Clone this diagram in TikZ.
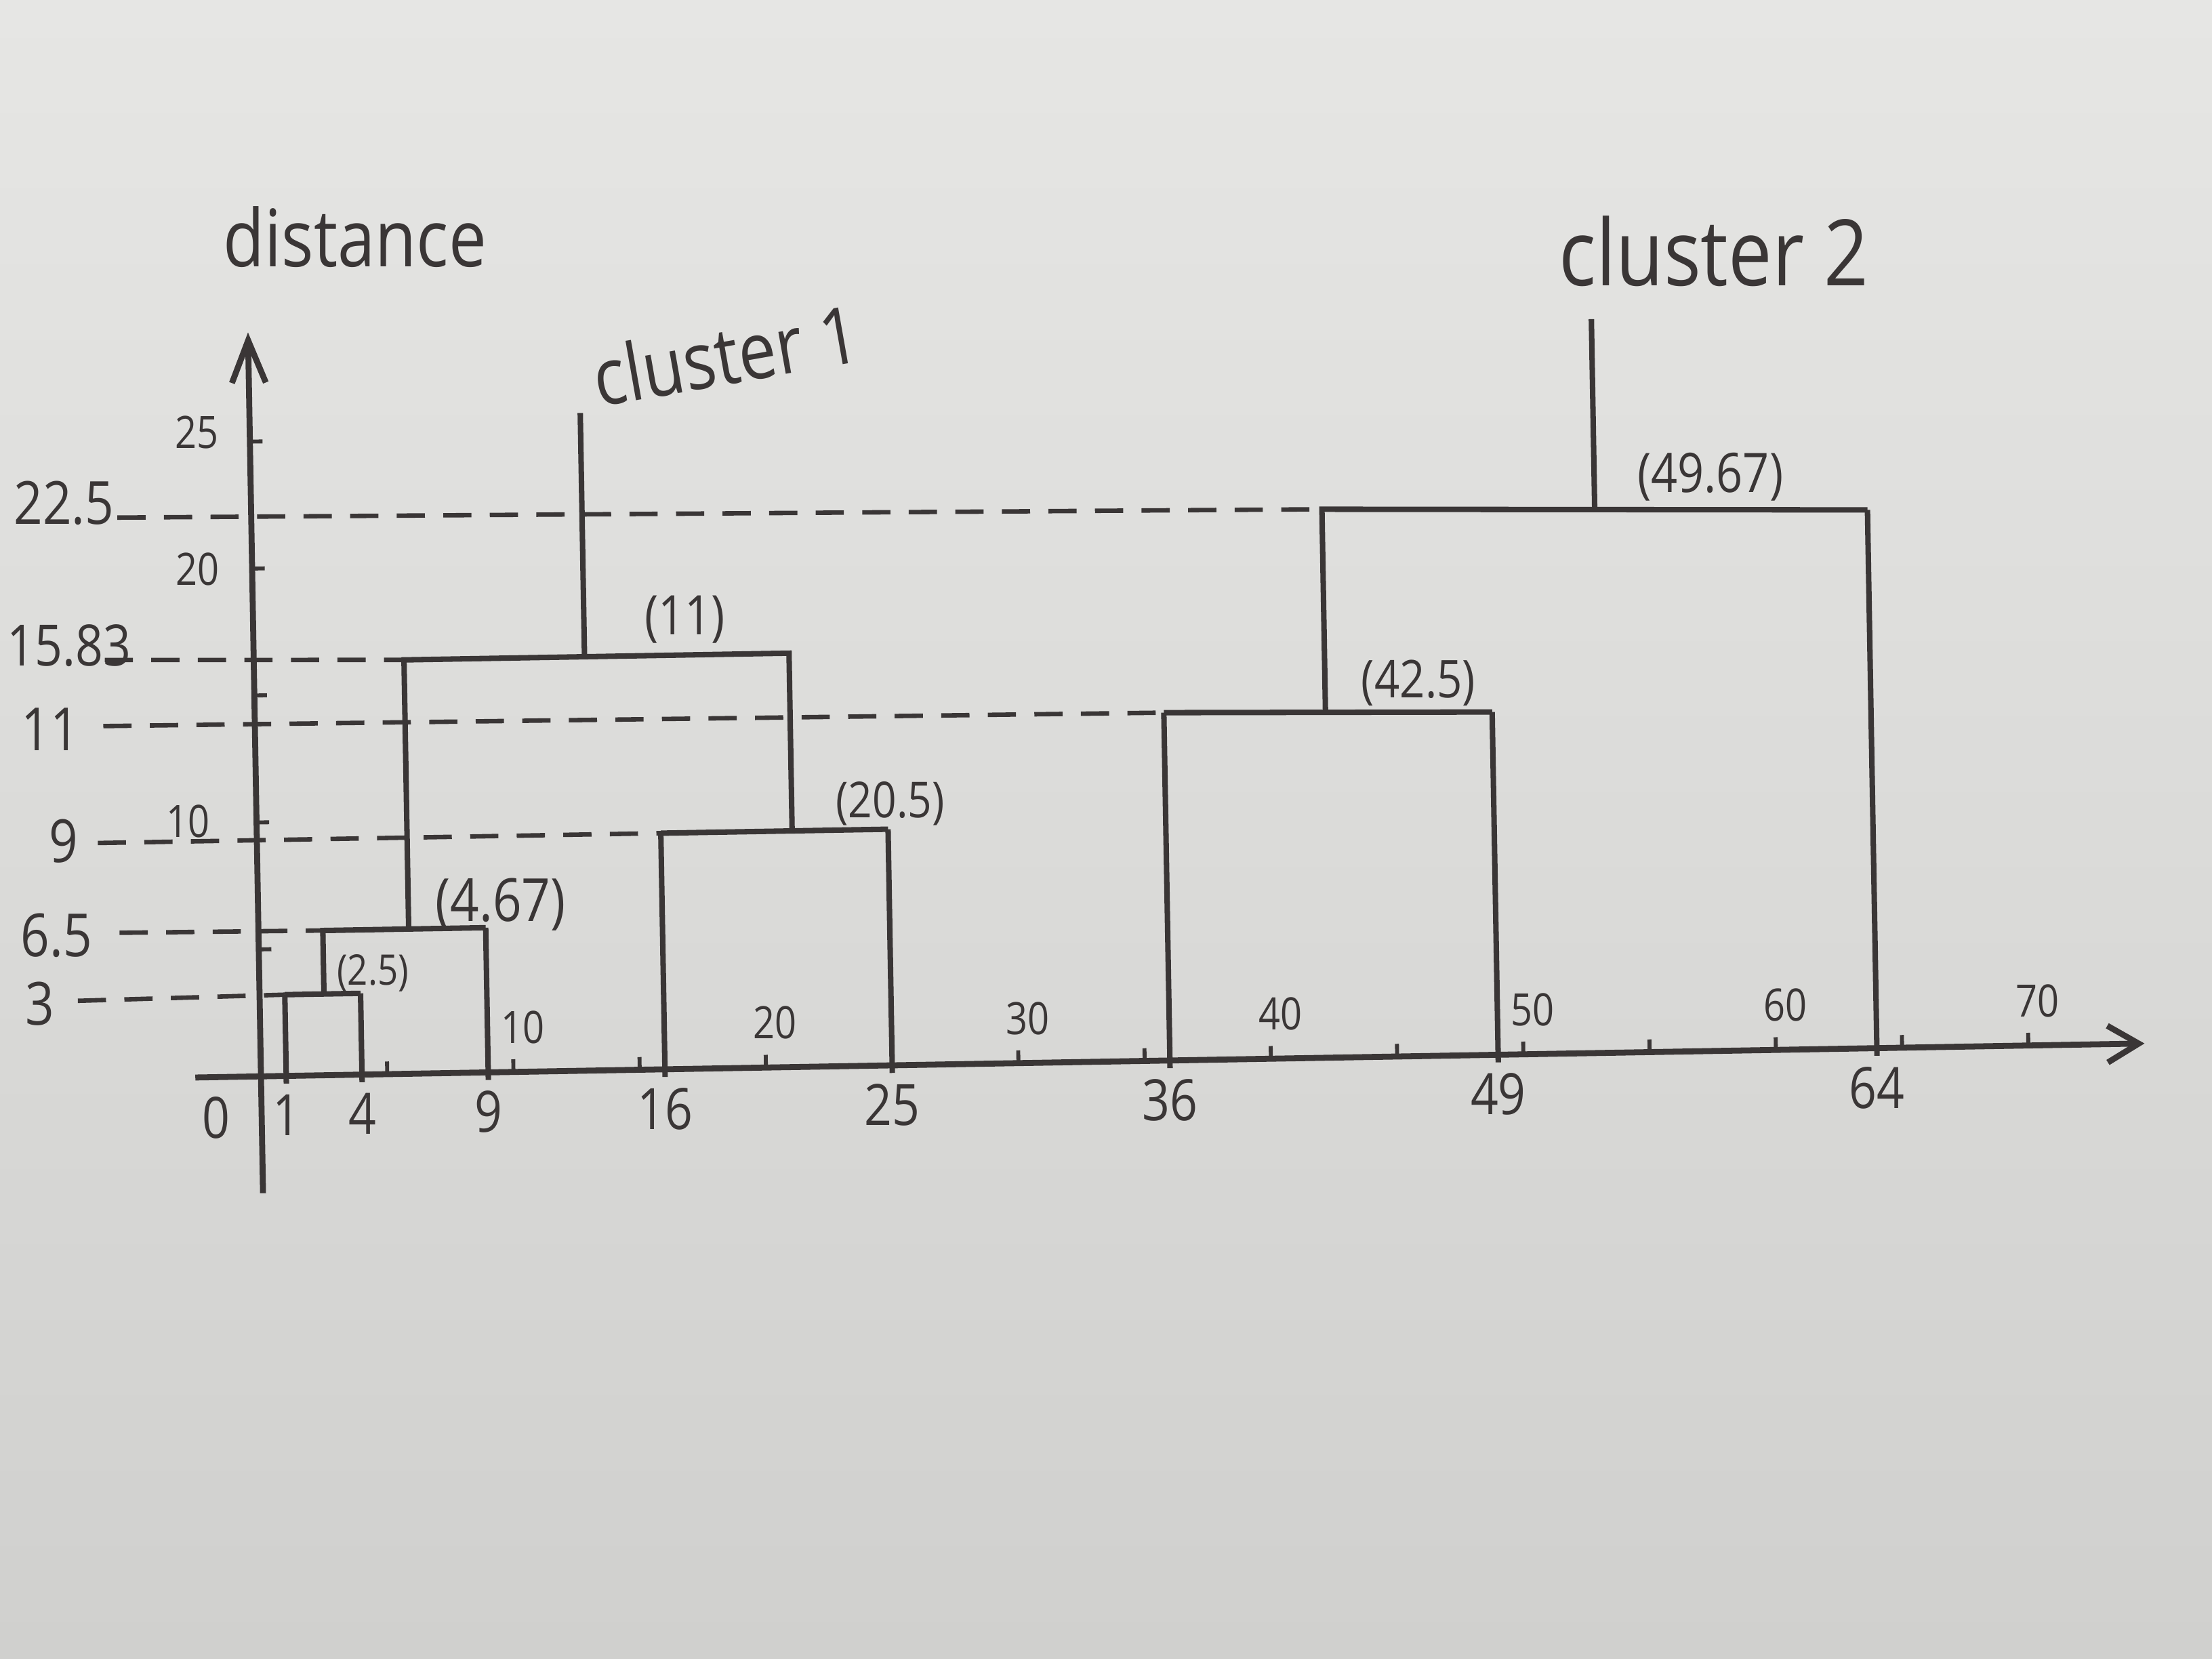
\documentclass[tikz,border=0pt]{standalone}
\usepackage{fontspec}
\setmainfont[FakeStretch=0.85]{Open Sans}
\usetikzlibrary{arrows.meta}
\definecolor{pencil}{RGB}{58,54,54}
\definecolor{paper}{RGB}{230,230,228}
\definecolor{paperdark}{RGB}{208,208,206}

\begin{document}
\begin{tikzpicture}[x=1.79mm,y=1.8mm,
  link/.style={draw=pencil,line width=1.1pt},
  guide/.style={draw=pencil,line width=0.9pt,dash pattern=on 2mm off 1.3mm},
  axisline/.style={draw=pencil,line width=1.2pt},
  tickmark/.style={draw=pencil,line width=0.8pt},
  hand/.style={text=pencil,inner sep=1pt},
  big/.style={hand,font=\fontsize{12}{12}\selectfont},
  leaflab/.style={hand,font=\fontsize{11.5}{11.5}\selectfont},
  small/.style={hand,font=\fontsize{9}{9}\selectfont}]
  \useasboundingbox (-18.5mm,-41.3mm) rectangle (138.3mm,76.3mm);
  \shade[top color=paper,bottom color=paperdark] (-18.5mm,-41.3mm) rectangle (138.3mm,76.3mm);
  \begin{scope}[rotate=1]
  % axes
  \draw[axisline,-{Straight Barb[length=2.2mm,width=2.6mm]}] (-2.6,0) -- (74.6,0);
  \draw[axisline,-{Straight Barb[length=3mm,width=2.4mm]}] (0,-4.6) -- (0,29.3);
  \foreach \x in {5,10,...,70} \draw[tickmark] (\x,0) -- (\x,0.5);
  \foreach \y in {5,10,...,25} \draw[tickmark] (0,\y) -- (0.5,\y);
  \foreach \x in {10,20,...,70} \node[small] (xt\x) at (\x+0.4,1.75) {\x};
  \node[small] (yt25) at (-2.1,25.4) {25};
  \node[small] (yt20) at (-2.15,20) {20};
  \node[small] (yt10) at (-2.7,10.1) {10};
  \node[leaflab] (orig) at (-1.8,-1.6) {0};
  \node[hand,font=\fontsize{16}{16}\selectfont] (dist) at (4.3,33) {distance};
  % cut levels
  \draw[guide] (-5.3,22.1) -- (42.4,21.6);
  \draw[guide] (-5.9,16.5) -- (5.95,16.3);
  \draw[guide] (-6.0,13.9) -- (36,13.7);
  \draw[guide] (-6.3,9.3) -- (16,9.3);
  \draw[guide] (-5.5,5.75) -- (2.55,5.7);
  \draw[guide] (-7.2,3.1) -- (1,3.2);
  \node[big] (h225) at (-7.4,22.7) {22.5};
  \node[hand,font=\fontsize{11.5}{11.5}\selectfont] (h1583) at (-7.3,17.1) {15.83};
  \node[big] (h11) at (-8.1,13.8) {11};
  \node[big] (h9) at (-7.65,9.4) {9};
  \node[big] (h65) at (-8.0,5.7) {6.5};
  \node[big] (h3) at (-8.7,3.0) {3};
  % leaves
  \foreach \v/\h in {1/3.2,4/3.2,9/5.7,16/9.3,25/9.3,36/13.7,49/13.5,64/21.2}{
    \draw[link] (\v,-0.3) -- (\v,\h);
    \node[leaflab,below] (leaf\v) at (\v,-0.5) {\v};
  }
  % merges
  \draw[link] (1,3.2) -- (4,3.2);
  \draw[link] (2.55,3.2) |- (9,5.7);
  \draw[link] (16,9.3) -- (25,9.3);
  \draw[link] (5.95,5.7) |- (21.2,16.3) -- (21.2,9.3);
  \draw[link] (13.1,16.3) -- (13.1,25.9);
  \draw[link] (36,13.7) -- (49,13.5);
  \draw[link] (42.4,13.6) -- (42.4,21.6) -- (64,21.2);
  \draw[link] (53.2,21.4) -- (53.2,28.9);
  \node[hand,font=\fontsize{8.5}{8.5}\selectfont] (m25) at (4.5,4.0) {(2.5)};
  \node[big] (m467) at (9.6,6.6) {(4.67)};
  \node[hand,font=\fontsize{10}{10}\selectfont] (m205) at (25.1,10.3) {(20.5)};
  \node[hand,font=\fontsize{11}{11}\selectfont] (m11) at (17.1,17.7) {(11)};
  \node[hand,font=\fontsize{10.5}{10.5}\selectfont] (m425) at (46.1,14.7) {(42.5)};
  \node[hand,font=\fontsize{11}{11}\selectfont] (m4967) at (57.8,22.6) {(49.67)};
  \node[hand,font=\fontsize{16}{16}\selectfont,rotate=10] (c1) at (18.9,28.1) {cluster 1};
  \node[hand,font=\fontsize{18.5}{18.5}\selectfont] (c2) at (58.1,31.5) {cluster 2};
  \end{scope}
\end{tikzpicture}
\end{document}
